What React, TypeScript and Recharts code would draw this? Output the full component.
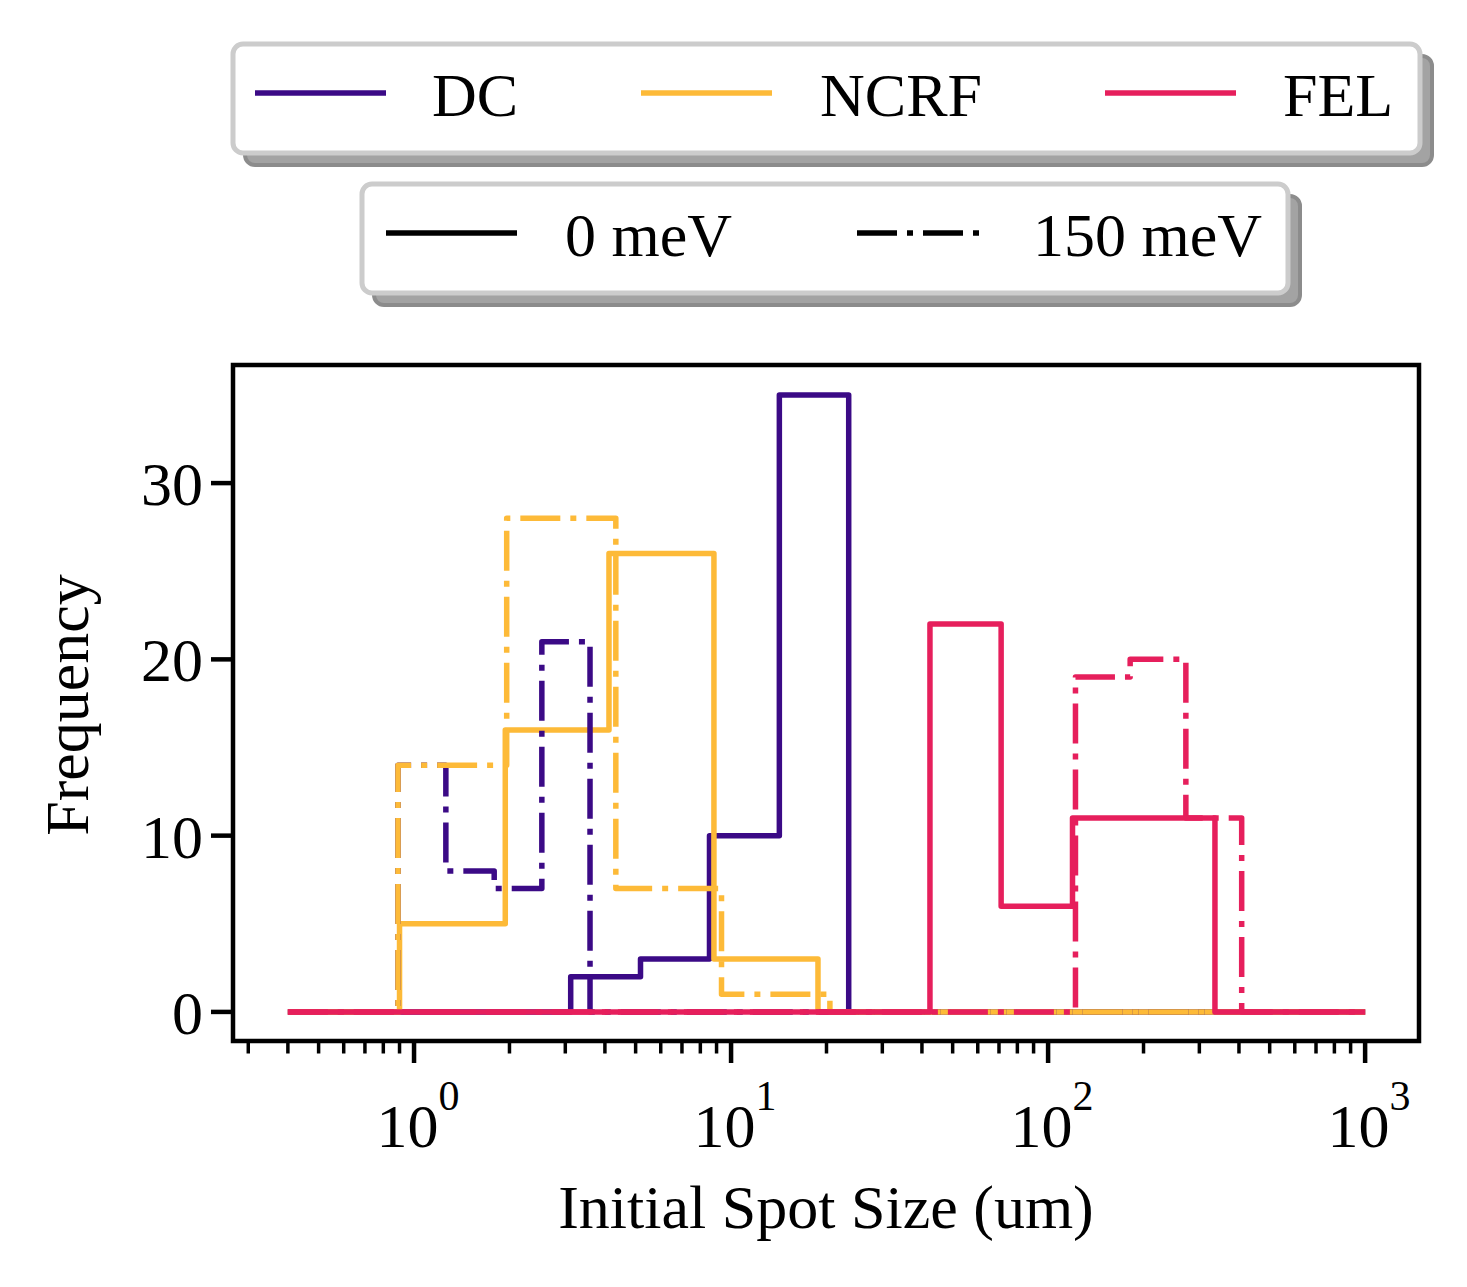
import React from "react";
import { LineChart, Line, XAxis, YAxis, ReferenceArea, Label } from "recharts";

// histogram bin edges (um) and counts
const X_RANGE = [0.4, 1000];

const DC_0_EDGES = [3.12, 5.18, 8.55, 14.2, 23.5];
const DC_0_COUNTS = [2, 3, 10, 35];
const DC_150_EDGES = [0.89, 1.26, 1.79, 2.53, 3.59];
const DC_150_COUNTS = [14, 8, 7, 21];

const NCRF_0_EDGES = [0.9, 1.94, 4.12, 8.83, 18.8];
const NCRF_0_COUNTS = [5, 16, 26, 3];
const NCRF_150_EDGES = [0.89, 1.96, 4.33, 9.33, 20.5];
const NCRF_150_COUNTS = [14, 28, 7, 1];

const FEL_0_EDGES = [42.4, 71.1, 119.4, 200, 336];
const FEL_0_COUNTS = [22, 6, 11, 11];
const FEL_150_EDGES = [122, 181.5, 272, 408];
const FEL_150_COUNTS = [19, 20, 11];

const X_DOMAIN = [0.2685, 1479];
const Y_DOMAIN = [-1.65, 36.7];
const X_MAJOR = [1, 10, 100, 1000];
const X_MINOR = [
  0.3, 0.4, 0.5, 0.6, 0.7, 0.8, 0.9,
  2, 3, 4, 5, 6, 7, 8, 9,
  20, 30, 40, 50, 60, 70, 80, 90,
  200, 300, 400, 500, 600, 700, 800, 900,
];
const Y_TICKS = [0, 10, 20, 30];

const SOURCES = ["DC", "NCRF", "FEL"];
const ENERGIES = ["0 meV", "150 meV"];

const COLORS = { DC: "#3b0a86", NCRF: "#fdba38", FEL: "#e61f5c" };
const FONT = "'Liberation Serif', 'Times New Roman', serif";
const LW = 5.5;
const DASHDOT = "40 10 6 10";

function steps(edges: number[], counts: number[]) {
  const pts = [{ x: X_RANGE[0], y: 0 }];
  edges.forEach((e, i) => pts.push({ x: e, y: i < counts.length ? counts[i] : 0 }));
  pts.push({ x: X_RANGE[1], y: 0 });
  return pts;
}

const XTick = (props: any) => {
  const { x, y, payload } = props;
  const v = payload.value;
  const major = X_MAJOR.includes(v);
  return (
    <g>
      <line x1={x} x2={x} y1={y} y2={y + (major ? 22 : 12.5)} stroke="#000" strokeWidth={major ? 4.5 : 3.5} />
      {major && (
        <text x={x + 4} y={y + 106} textAnchor="middle" fontSize={62} fontFamily={FONT} fill="#000">
          <tspan>10</tspan>
          <tspan dy={-37} fontSize={42}>{Math.round(Math.log10(v))}</tspan>
        </text>
      )}
    </g>
  );
};

const LegendBox = ({ x, y, w, h }: { x: number; y: number; w: number; h: number }) => (
  <g>
    <rect x={x + 12} y={y + 12} width={w} height={h} rx={10} fill="#a3a3a3" stroke="#8c8c8c" strokeWidth={4} />
    <rect x={x} y={y} width={w} height={h} rx={10} fill="#fff" stroke="#cccccc" strokeWidth={5} />
  </g>
);

export default function App() {
  const lines = [
    { key: "dc0", data: steps(DC_0_EDGES, DC_0_COUNTS), color: COLORS.DC, dash: undefined },
    { key: "ncrf0", data: steps(NCRF_0_EDGES, NCRF_0_COUNTS), color: COLORS.NCRF, dash: undefined },
    { key: "dc150", data: steps(DC_150_EDGES, DC_150_COUNTS), color: COLORS.DC, dash: DASHDOT },
    { key: "ncrf150", data: steps(NCRF_150_EDGES, NCRF_150_COUNTS), color: COLORS.NCRF, dash: DASHDOT },
    { key: "fel150", data: steps(FEL_150_EDGES, FEL_150_COUNTS), color: COLORS.FEL, dash: DASHDOT },
    { key: "fel0", data: steps(FEL_0_EDGES, FEL_0_COUNTS), color: COLORS.FEL, dash: undefined },
  ];

  const srcHandles = [255, 641, 1105];
  const srcText = [432, 820, 1283];
  const enHandles = [386, 857];
  const enText = [565, 1033];

  return (
    <div style={{ position: "absolute", left: 0, top: 0, width: 1467, height: 1287, background: "#fff" }}>
      <LineChart width={1467} height={1287} margin={{ top: 365, right: 48, bottom: 46, left: 83 }}>
        <XAxis
          type="number"
          dataKey="x"
          scale="log"
          domain={X_DOMAIN}
          allowDataOverflow
          ticks={[...X_MINOR, ...X_MAJOR].sort((a, b) => a - b)}
          interval={0}
          tick={<XTick />}
          tickSize={0}
          tickMargin={0}
          tickLine={false}
          axisLine={false}
          height={200}
        >
          <Label
            content={() => (
              <text x={826} y={1228} textAnchor="middle" fontSize={62} fontFamily={FONT} fill="#000">
                Initial Spot Size (um)
              </text>
            )}
          />
        </XAxis>
        <YAxis
          type="number"
          domain={Y_DOMAIN}
          allowDataOverflow
          ticks={Y_TICKS}
          interval={0}
          width={150}
          axisLine={false}
          tickSize={22}
          tickMargin={8}
          tickLine={{ stroke: "#000", strokeWidth: 4.5 }}
          tick={{ fontSize: 62, fill: "#000", fontFamily: FONT }}
        >
          <Label
            content={() => (
              <text
                x={88}
                y={705}
                textAnchor="middle"
                fontSize={62}
                fontFamily={FONT}
                fill="#000"
                transform="rotate(-90, 88, 705)"
              >
                Frequency
              </text>
            )}
          />
        </YAxis>
        {lines.map((l) => (
          <Line
            key={l.key}
            data={l.data}
            dataKey="y"
            type="stepAfter"
            stroke={l.color}
            strokeWidth={LW}
            strokeDasharray={l.dash}
            strokeLinejoin="round"
            dot={false}
            activeDot={false}
            isAnimationActive={false}
          />
        ))}
        <ReferenceArea
          x1={X_DOMAIN[0]}
          x2={X_DOMAIN[1]}
          y1={Y_DOMAIN[0]}
          y2={Y_DOMAIN[1]}
          fill="none"
          fillOpacity={0}
          stroke="#000"
          strokeWidth={4.5}
          ifOverflow="visible"
        />
      </LineChart>
      <svg
        width={1467}
        height={1287}
        style={{ position: "absolute", left: 0, top: 0, pointerEvents: "none" }}
      >
        <LegendBox x={233} y={44} w={1187} h={109} />
        {SOURCES.map((s, i) => (
          <g key={s}>
            <line x1={srcHandles[i]} x2={srcHandles[i] + 131} y1={93} y2={93} stroke={COLORS[s as keyof typeof COLORS]} strokeWidth={LW} />
            <text x={srcText[i]} y={116} fontSize={62} fontFamily={FONT} fill="#000">{s}</text>
          </g>
        ))}
        <LegendBox x={362} y={184} w={926} h={109} />
        {ENERGIES.map((e, i) => (
          <g key={e}>
            <line
              x1={enHandles[i]}
              x2={enHandles[i] + 131}
              y1={233}
              y2={233}
              stroke="#000"
              strokeWidth={LW}
              strokeDasharray={i === 1 ? DASHDOT : undefined}
            />
            <text x={enText[i]} y={256} fontSize={62} fontFamily={FONT} fill="#000">{e}</text>
          </g>
        ))}
      </svg>
    </div>
  );
}
